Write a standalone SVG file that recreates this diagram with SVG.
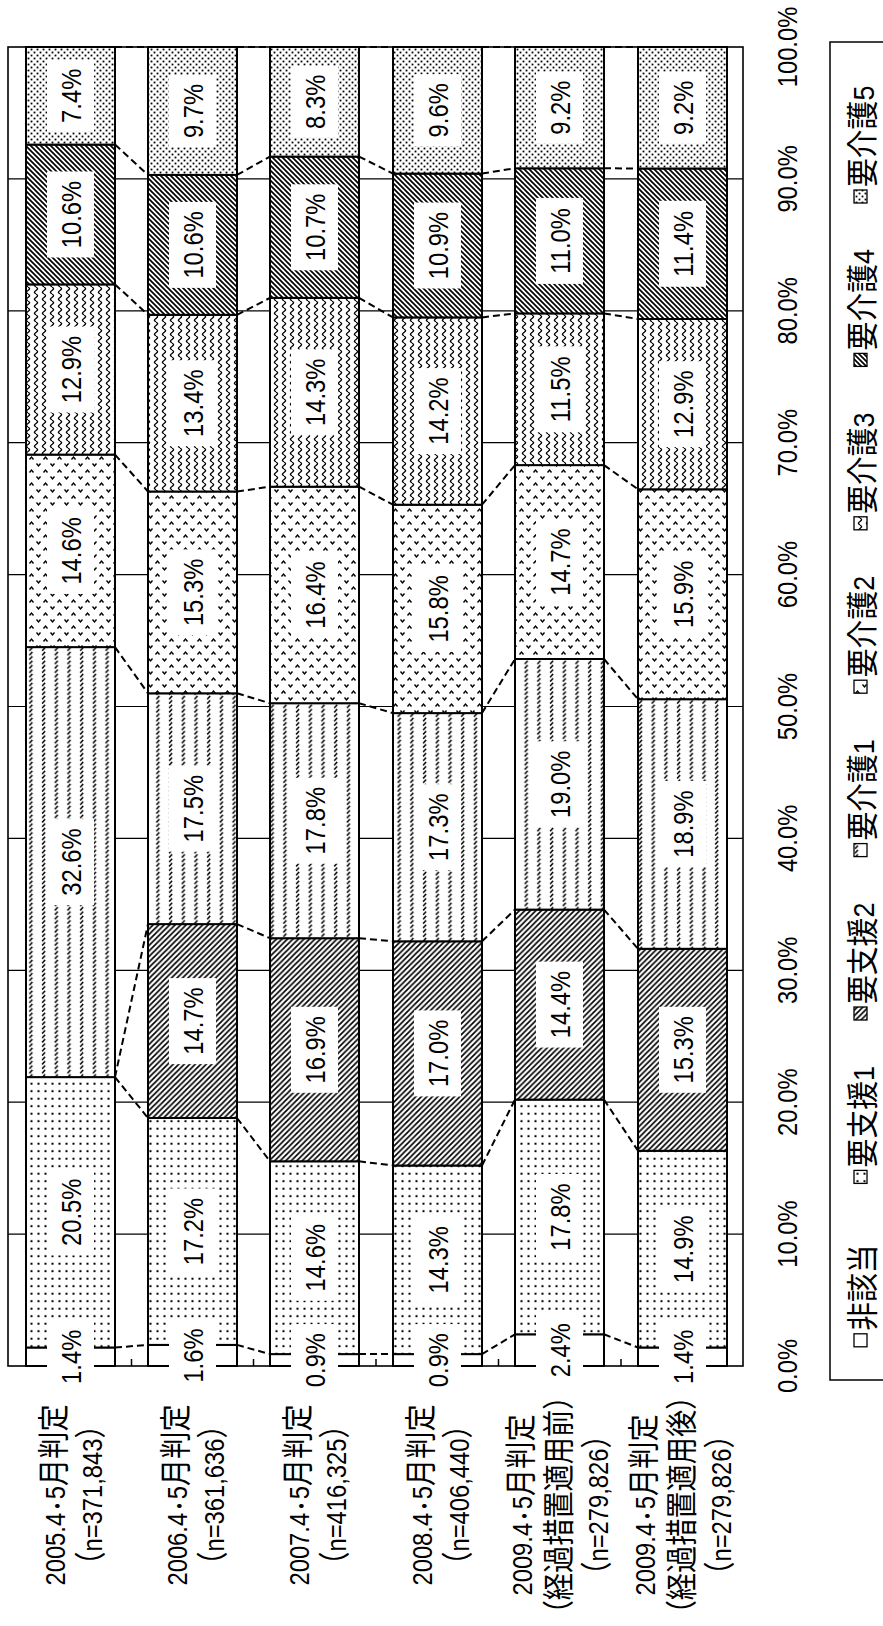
<svg xmlns="http://www.w3.org/2000/svg" width="883" height="1626" viewBox="0 0 883 1626">
<style>
text{font-family:"Liberation Sans","Noto Sans CJK JP",sans-serif;font-size:28px;fill:#000}
.cj{font-family:"Noto Sans CJK JP",sans-serif;font-size:32px}
.dt{font-family:"Noto Sans CJK JP",sans-serif;font-size:22px}
.v,.ax,.cat{text-anchor:middle}
.box{fill:#fff}
.seg{stroke:#000;stroke-width:2}
.grid{stroke:#000;stroke-width:1.2}
.conn{stroke:#000;stroke-width:2;stroke-dasharray:7 4;fill:none}
.n{fill:#fff}.s1{fill:url(#p-s1)}.s2{fill:url(#p-s2)}.k1{fill:url(#p-k1)}.k2{fill:url(#p-k2)}.k3{fill:url(#p-k3)}.k4{fill:url(#p-k4)}.k5{fill:url(#p-k5)}
.lg text{font-size:30px}
.lg .cj{font-size:32px}
.sq{stroke:#000;stroke-width:1.3}
</style>
<defs>
<pattern id="p-s1" width="7" height="7.5" patternUnits="userSpaceOnUse"><rect width="7" height="7.5" fill="#fff"/><rect x="2.5" y="2.7" width="2" height="2" fill="#000"/></pattern>
<pattern id="p-s2" width="5.5" height="5.5" patternUnits="userSpaceOnUse"><rect width="5.5" height="5.5" fill="#fff"/><path d="M-1,1 L1,-1 M0,5.5 L5.5,0 M4.5,6.5 L6.5,4.5" stroke="#000" stroke-width="1.7"/></pattern>
<pattern id="p-k1" width="12.7" height="4.4" patternUnits="userSpaceOnUse"><rect width="12.7" height="4.4" fill="#fff"/><path d="M4,4 L7,0.8" stroke="#000" stroke-width="1.5"/></pattern>
<pattern id="p-k2" width="14" height="13" patternUnits="userSpaceOnUse"><rect width="14" height="13" fill="#fff"/><path d="M1.5,4.5 L3.5,2 L5.5,4.5 M8.5,8.5 L10.5,11 L12.5,8.5" stroke="#000" stroke-width="1.4" fill="none"/></pattern>
<pattern id="p-k3" width="8" height="7" patternUnits="userSpaceOnUse"><rect width="8" height="7" fill="#fff"/><path d="M4,0 C6.2,1.75 6.2,1.75 4,3.5 C1.8,5.25 1.8,5.25 4,7" stroke="#000" stroke-width="1.3" fill="none"/></pattern>
<pattern id="p-k4" width="5" height="5" patternUnits="userSpaceOnUse"><rect width="5" height="5" fill="#fff"/><path d="M0,0 L5,5 M-1,4 L1,6 M4,-1 L6,1" stroke="#000" stroke-width="1.7"/></pattern>
<pattern id="p-k5" width="6" height="6" patternUnits="userSpaceOnUse"><rect width="6" height="6" fill="#fff"/><rect x="0.6" y="0.6" width="1.8" height="1.8" fill="#000"/><rect x="3.6" y="3.6" width="1.8" height="1.8" fill="#000"/></pattern>
</defs>
<rect width="883" height="1626" fill="#fff"/>

<g id="plot-area">
<g class="grid">
<line x1="8" y1="1234.1" x2="743" y2="1234.1"/>
<line x1="8" y1="1102.2" x2="743" y2="1102.2"/>
<line x1="8" y1="970.3" x2="743" y2="970.3"/>
<line x1="8" y1="838.4" x2="743" y2="838.4"/>
<line x1="8" y1="706.5" x2="743" y2="706.5"/>
<line x1="8" y1="574.6" x2="743" y2="574.6"/>
<line x1="8" y1="442.7" x2="743" y2="442.7"/>
<line x1="8" y1="310.8" x2="743" y2="310.8"/>
<line x1="8" y1="178.9" x2="743" y2="178.9"/>
</g>
<rect x="8" y="47" width="735" height="1319" fill="none" stroke="#000" stroke-width="1.6"/>
<g stroke="#000" stroke-width="1.5">
<line x1="131.5" y1="1366" x2="131.5" y2="1359"/>
<line x1="253.5" y1="1366" x2="253.5" y2="1359"/>
<line x1="376" y1="1366" x2="376" y2="1359"/>
<line x1="498.5" y1="1366" x2="498.5" y2="1359"/>
<line x1="621" y1="1366" x2="621" y2="1359"/>
</g>
</g>

<g id="bar-2005">
<rect class="seg n" x="26" y="1347.5" width="89" height="18.5"/>
<rect class="seg s1" x="26" y="1077.1" width="89" height="270.4"/>
<rect class="seg k1" x="26" y="647.1" width="89" height="430"/>
<rect class="seg k2" x="26" y="454.6" width="89" height="192.5"/>
<rect class="seg k3" x="26" y="284.4" width="89" height="170.2"/>
<rect class="seg k4" x="26" y="144.6" width="89" height="139.8"/>
<rect class="seg k5" x="26" y="47" width="89" height="97.6"/>
</g>
<g id="bar-2006">
<rect class="seg n" x="148" y="1344.9" width="89" height="21.1"/>
<rect class="seg s1" x="148" y="1118" width="89" height="226.9"/>
<rect class="seg s2" x="148" y="924.1" width="89" height="193.9"/>
<rect class="seg k1" x="148" y="693.3" width="89" height="230.8"/>
<rect class="seg k2" x="148" y="491.5" width="89" height="201.8"/>
<rect class="seg k3" x="148" y="314.8" width="89" height="176.7"/>
<rect class="seg k4" x="148" y="174.9" width="89" height="139.9"/>
<rect class="seg k5" x="148" y="47" width="89" height="127.9"/>
</g>
<g id="bar-2007">
<rect class="seg n" x="270" y="1354.1" width="89" height="11.9"/>
<rect class="seg s1" x="270" y="1161.3" width="89" height="192.8"/>
<rect class="seg s2" x="270" y="938.2" width="89" height="223.1"/>
<rect class="seg k1" x="270" y="703.2" width="89" height="235"/>
<rect class="seg k2" x="270" y="486.7" width="89" height="216.5"/>
<rect class="seg k3" x="270" y="297.9" width="89" height="188.8"/>
<rect class="seg k4" x="270" y="156.6" width="89" height="141.3"/>
<rect class="seg k5" x="270" y="47" width="89" height="109.6"/>
</g>
<g id="bar-2008">
<rect class="seg n" x="393" y="1354.1" width="89" height="11.9"/>
<rect class="seg s1" x="393" y="1165.5" width="89" height="188.6"/>
<rect class="seg s2" x="393" y="941.3" width="89" height="224.2"/>
<rect class="seg k1" x="393" y="713.1" width="89" height="228.2"/>
<rect class="seg k2" x="393" y="504.7" width="89" height="208.4"/>
<rect class="seg k3" x="393" y="317.4" width="89" height="187.3"/>
<rect class="seg k4" x="393" y="173.6" width="89" height="143.8"/>
<rect class="seg k5" x="393" y="47" width="89" height="126.6"/>
</g>
<g id="bar-2009-before">
<rect class="seg n" x="515" y="1334.3" width="89" height="31.7"/>
<rect class="seg s1" x="515" y="1099.6" width="89" height="234.7"/>
<rect class="seg s2" x="515" y="909.6" width="89" height="190"/>
<rect class="seg k1" x="515" y="659" width="89" height="250.6"/>
<rect class="seg k2" x="515" y="465.1" width="89" height="193.9"/>
<rect class="seg k3" x="515" y="313.4" width="89" height="151.7"/>
<rect class="seg k4" x="515" y="168.3" width="89" height="145.1"/>
<rect class="seg k5" x="515" y="47" width="89" height="121.3"/>
</g>
<g id="bar-2009-after">
<rect class="seg n" x="638" y="1347.5" width="89" height="18.5"/>
<rect class="seg s1" x="638" y="1150.8" width="89" height="196.7"/>
<rect class="seg s2" x="638" y="948.8" width="89" height="202"/>
<rect class="seg k1" x="638" y="699.2" width="89" height="249.6"/>
<rect class="seg k2" x="638" y="489.3" width="89" height="209.9"/>
<rect class="seg k3" x="638" y="319" width="89" height="170.3"/>
<rect class="seg k4" x="638" y="168.5" width="89" height="150.5"/>
<rect class="seg k5" x="638" y="47" width="89" height="121.5"/>
</g>

<g id="connectors" class="conn">
<path d="M115,1347.5L148,1344.9M115,1077.1L148,1118M115,1077.1L148,924.1M115,647.1L148,693.3M115,454.6L148,491.5M115,284.4L148,314.8M115,144.6L148,174.9M115,47L148,47"/>
<path d="M237,1344.9L270,1354.1M237,1118L270,1161.3M237,924.1L270,938.2M237,693.3L270,703.2M237,491.5L270,486.7M237,314.8L270,297.9M237,174.9L270,156.6M237,47L270,47"/>
<path d="M359,1354.1L393,1354.1M359,1161.3L393,1165.5M359,938.2L393,941.3M359,703.2L393,713.1M359,486.7L393,504.7M359,297.9L393,317.4M359,156.6L393,173.6M359,47L393,47"/>
<path d="M482,1354.1L515,1334.3M482,1165.5L515,1099.6M482,941.3L515,909.6M482,713.1L515,659M482,504.7L515,465.1M482,317.4L515,313.4M482,173.6L515,168.3M482,47L515,47"/>
<path d="M604,1334.3L638,1347.5M604,1099.6L638,1150.8M604,909.6L638,948.8M604,659L638,699.2M604,465.1L638,489.3M604,313.4L638,319M604,168.3L638,168.5M604,47L638,47"/>
</g>

<g id="labels-2005">
<rect class="box" x="47" y="1320.8" width="47" height="72"/><text class="v" transform="translate(80.5,1356.8) rotate(-90) scale(0.85,1)">1.4%</text>
<rect class="box" x="47" y="1169.3" width="47" height="86"/><text class="v" transform="translate(80.5,1212.3) rotate(-90) scale(0.85,1)">20.5%</text>
<rect class="box" x="47" y="819.1" width="47" height="86"/><text class="v" transform="translate(80.5,862.1) rotate(-90) scale(0.85,1)">32.6%</text>
<rect class="box" x="47" y="507.9" width="47" height="86"/><text class="v" transform="translate(80.5,550.9) rotate(-90) scale(0.85,1)">14.6%</text>
<rect class="box" x="47" y="326.5" width="47" height="86"/><text class="v" transform="translate(80.5,369.5) rotate(-90) scale(0.85,1)">12.9%</text>
<rect class="box" x="47" y="171.5" width="47" height="86"/><text class="v" transform="translate(80.5,214.5) rotate(-90) scale(0.85,1)">10.6%</text>
<rect class="box" x="47" y="59.8" width="47" height="72"/><text class="v" transform="translate(80.5,95.8) rotate(-90) scale(0.85,1)">7.4%</text>
</g>
<g id="labels-2006">
<rect class="box" x="169" y="1319.5" width="47" height="72"/><text class="v" transform="translate(202.5,1355.5) rotate(-90) scale(0.85,1)">1.6%</text>
<rect class="box" x="169" y="1188.5" width="47" height="86"/><text class="v" transform="translate(202.5,1231.5) rotate(-90) scale(0.85,1)">17.2%</text>
<rect class="box" x="169" y="978.1" width="47" height="86"/><text class="v" transform="translate(202.5,1021.1) rotate(-90) scale(0.85,1)">14.7%</text>
<rect class="box" x="169" y="765.7" width="47" height="86"/><text class="v" transform="translate(202.5,808.7) rotate(-90) scale(0.85,1)">17.5%</text>
<rect class="box" x="169" y="549.4" width="47" height="86"/><text class="v" transform="translate(202.5,592.4) rotate(-90) scale(0.85,1)">15.3%</text>
<rect class="box" x="169" y="360.2" width="47" height="86"/><text class="v" transform="translate(202.5,403.2) rotate(-90) scale(0.85,1)">13.4%</text>
<rect class="box" x="169" y="201.9" width="47" height="86"/><text class="v" transform="translate(202.5,244.9) rotate(-90) scale(0.85,1)">10.6%</text>
<rect class="box" x="169" y="75" width="47" height="72"/><text class="v" transform="translate(202.5,111) rotate(-90) scale(0.85,1)">9.7%</text>
</g>
<g id="labels-2007">
<rect class="box" x="291" y="1324.1" width="47" height="72"/><text class="v" transform="translate(324.5,1360.1) rotate(-90) scale(0.85,1)">0.9%</text>
<rect class="box" x="291" y="1214.7" width="47" height="86"/><text class="v" transform="translate(324.5,1257.7) rotate(-90) scale(0.85,1)">14.6%</text>
<rect class="box" x="291" y="1006.8" width="47" height="86"/><text class="v" transform="translate(324.5,1049.8) rotate(-90) scale(0.85,1)">16.9%</text>
<rect class="box" x="291" y="777.7" width="47" height="86"/><text class="v" transform="translate(324.5,820.7) rotate(-90) scale(0.85,1)">17.8%</text>
<rect class="box" x="291" y="552" width="47" height="86"/><text class="v" transform="translate(324.5,595) rotate(-90) scale(0.85,1)">16.4%</text>
<rect class="box" x="291" y="349.3" width="47" height="86"/><text class="v" transform="translate(324.5,392.3) rotate(-90) scale(0.85,1)">14.3%</text>
<rect class="box" x="291" y="184.3" width="47" height="86"/><text class="v" transform="translate(324.5,227.3) rotate(-90) scale(0.85,1)">10.7%</text>
<rect class="box" x="291" y="65.8" width="47" height="72"/><text class="v" transform="translate(324.5,101.8) rotate(-90) scale(0.85,1)">8.3%</text>
</g>
<g id="labels-2008">
<rect class="box" x="414" y="1324.1" width="47" height="72"/><text class="v" transform="translate(447.5,1360.1) rotate(-90) scale(0.85,1)">0.9%</text>
<rect class="box" x="414" y="1216.8" width="47" height="86"/><text class="v" transform="translate(447.5,1259.8) rotate(-90) scale(0.85,1)">14.3%</text>
<rect class="box" x="414" y="1010.4" width="47" height="86"/><text class="v" transform="translate(447.5,1053.4) rotate(-90) scale(0.85,1)">17.0%</text>
<rect class="box" x="414" y="784.2" width="47" height="86"/><text class="v" transform="translate(447.5,827.2) rotate(-90) scale(0.85,1)">17.3%</text>
<rect class="box" x="414" y="565.9" width="47" height="86"/><text class="v" transform="translate(447.5,608.9) rotate(-90) scale(0.85,1)">15.8%</text>
<rect class="box" x="414" y="368.1" width="47" height="86"/><text class="v" transform="translate(447.5,411.1) rotate(-90) scale(0.85,1)">14.2%</text>
<rect class="box" x="414" y="202.5" width="47" height="86"/><text class="v" transform="translate(447.5,245.5) rotate(-90) scale(0.85,1)">10.9%</text>
<rect class="box" x="414" y="74.3" width="47" height="72"/><text class="v" transform="translate(447.5,110.3) rotate(-90) scale(0.85,1)">9.6%</text>
</g>
<g id="labels-2009-before">
<rect class="box" x="536" y="1314.2" width="47" height="72"/><text class="v" transform="translate(569.5,1350.2) rotate(-90) scale(0.85,1)">2.4%</text>
<rect class="box" x="536" y="1174" width="47" height="86"/><text class="v" transform="translate(569.5,1217) rotate(-90) scale(0.85,1)">17.8%</text>
<rect class="box" x="536" y="961.6" width="47" height="86"/><text class="v" transform="translate(569.5,1004.6) rotate(-90) scale(0.85,1)">14.4%</text>
<rect class="box" x="536" y="741.3" width="47" height="86"/><text class="v" transform="translate(569.5,784.3) rotate(-90) scale(0.85,1)">19.0%</text>
<rect class="box" x="536" y="519.1" width="47" height="86"/><text class="v" transform="translate(569.5,562.1) rotate(-90) scale(0.85,1)">14.7%</text>
<rect class="box" x="536" y="346.3" width="47" height="86"/><text class="v" transform="translate(569.5,389.3) rotate(-90) scale(0.85,1)">11.5%</text>
<rect class="box" x="536" y="197.9" width="47" height="86"/><text class="v" transform="translate(569.5,240.9) rotate(-90) scale(0.85,1)">11.0%</text>
<rect class="box" x="536" y="71.7" width="47" height="72"/><text class="v" transform="translate(569.5,107.7) rotate(-90) scale(0.85,1)">9.2%</text>
</g>
<g id="labels-2009-after">
<rect class="box" x="659" y="1320.8" width="47" height="72"/><text class="v" transform="translate(692.5,1356.8) rotate(-90) scale(0.85,1)">1.4%</text>
<rect class="box" x="659" y="1206.2" width="47" height="86"/><text class="v" transform="translate(692.5,1249.2) rotate(-90) scale(0.85,1)">14.9%</text>
<rect class="box" x="659" y="1006.8" width="47" height="86"/><text class="v" transform="translate(692.5,1049.8) rotate(-90) scale(0.85,1)">15.3%</text>
<rect class="box" x="659" y="781" width="47" height="86"/><text class="v" transform="translate(692.5,824) rotate(-90) scale(0.85,1)">18.9%</text>
<rect class="box" x="659" y="551.3" width="47" height="86"/><text class="v" transform="translate(692.5,594.3) rotate(-90) scale(0.85,1)">15.9%</text>
<rect class="box" x="659" y="361.2" width="47" height="86"/><text class="v" transform="translate(692.5,404.2) rotate(-90) scale(0.85,1)">12.9%</text>
<rect class="box" x="659" y="200.8" width="47" height="86"/><text class="v" transform="translate(692.5,243.8) rotate(-90) scale(0.85,1)">11.4%</text>
<rect class="box" x="659" y="71.8" width="47" height="72"/><text class="v" transform="translate(692.5,107.8) rotate(-90) scale(0.85,1)">9.2%</text>
</g>

<g id="value-axis">
<text class="ax" transform="translate(797,1366) rotate(-90) scale(0.85,1)">0.0%</text>
<text class="ax" transform="translate(797,1234.1) rotate(-90) scale(0.85,1)">10.0%</text>
<text class="ax" transform="translate(797,1102.2) rotate(-90) scale(0.85,1)">20.0%</text>
<text class="ax" transform="translate(797,970.3) rotate(-90) scale(0.85,1)">30.0%</text>
<text class="ax" transform="translate(797,838.4) rotate(-90) scale(0.85,1)">40.0%</text>
<text class="ax" transform="translate(797,706.5) rotate(-90) scale(0.85,1)">50.0%</text>
<text class="ax" transform="translate(797,574.6) rotate(-90) scale(0.85,1)">60.0%</text>
<text class="ax" transform="translate(797,442.7) rotate(-90) scale(0.85,1)">70.0%</text>
<text class="ax" transform="translate(797,310.8) rotate(-90) scale(0.85,1)">80.0%</text>
<text class="ax" transform="translate(797,178.9) rotate(-90) scale(0.85,1)">90.0%</text>
<text class="ax" transform="translate(797,47) rotate(-90) scale(0.85,1)">100.0%</text>
</g>

<g id="category-labels">
<g id="cat-2005">
<text class="cat" transform="translate(65,1495) rotate(-90) scale(0.85,1)">2005.4<tspan class="dt" dx="-3">・</tspan><tspan dx="-3">5</tspan><tspan class="cj">月判定</tspan></text>
<text class="cat" transform="translate(102,1495) rotate(-90) scale(0.85,1)"><tspan class="cj">（</tspan>n=371,843<tspan class="cj">）</tspan></text>
</g>
<g id="cat-2006">
<text class="cat" transform="translate(187,1495) rotate(-90) scale(0.85,1)">2006.4<tspan class="dt" dx="-3">・</tspan><tspan dx="-3">5</tspan><tspan class="cj">月判定</tspan></text>
<text class="cat" transform="translate(224,1495) rotate(-90) scale(0.85,1)"><tspan class="cj">（</tspan>n=361,636<tspan class="cj">）</tspan></text>
</g>
<g id="cat-2007">
<text class="cat" transform="translate(309,1495) rotate(-90) scale(0.85,1)">2007.4<tspan class="dt" dx="-3">・</tspan><tspan dx="-3">5</tspan><tspan class="cj">月判定</tspan></text>
<text class="cat" transform="translate(346,1495) rotate(-90) scale(0.85,1)"><tspan class="cj">（</tspan>n=416,325<tspan class="cj">）</tspan></text>
</g>
<g id="cat-2008">
<text class="cat" transform="translate(432,1495) rotate(-90) scale(0.85,1)">2008.4<tspan class="dt" dx="-3">・</tspan><tspan dx="-3">5</tspan><tspan class="cj">月判定</tspan></text>
<text class="cat" transform="translate(469,1495) rotate(-90) scale(0.85,1)"><tspan class="cj">（</tspan>n=406,440<tspan class="cj">）</tspan></text>
</g>
<g id="cat-2009-before">
<text class="cat" transform="translate(532,1505) rotate(-90) scale(0.85,1)">2009.4<tspan class="dt" dx="-3">・</tspan><tspan dx="-3">5</tspan><tspan class="cj">月判定</tspan></text>
<text class="cat" transform="translate(570,1505) rotate(-90) scale(0.85,1)"><tspan class="cj" font-size="29">（経過措置適用前）</tspan></text>
<text class="cat" transform="translate(608,1505) rotate(-90) scale(0.85,1)"><tspan class="cj">（</tspan>n=279,826<tspan class="cj">）</tspan></text>
</g>
<g id="cat-2009-after">
<text class="cat" transform="translate(655,1505) rotate(-90) scale(0.85,1)">2009.4<tspan class="dt" dx="-3">・</tspan><tspan dx="-3">5</tspan><tspan class="cj">月判定</tspan></text>
<text class="cat" transform="translate(693,1505) rotate(-90) scale(0.85,1)"><tspan class="cj" font-size="29">（経過措置適用後）</tspan></text>
<text class="cat" transform="translate(731,1505) rotate(-90) scale(0.85,1)"><tspan class="cj">（</tspan>n=279,826<tspan class="cj">）</tspan></text>
</g>
</g>

<g id="legend" class="lg">
<rect x="830" y="42" width="70" height="1338" fill="none" stroke="#000" stroke-width="1.5"/>
<g id="legend-n"><rect class="sq n" x="854" y="1333.8" width="13" height="13"/><text transform="translate(874,1330.8) rotate(-90) scale(0.9,1)"><tspan class="cj">非該当</tspan></text></g>
<g id="legend-s1"><rect class="sq s1" x="854" y="1170.4" width="13" height="13"/><text transform="translate(874,1167.4) rotate(-90) scale(0.9,1)"><tspan class="cj">要支援</tspan>1</text></g>
<g id="legend-s2"><rect class="sq s2" x="854" y="1007" width="13" height="13"/><text transform="translate(874,1004) rotate(-90) scale(0.9,1)"><tspan class="cj">要支援</tspan>2</text></g>
<g id="legend-k1"><rect class="sq k1" x="854" y="843.6" width="13" height="13"/><text transform="translate(874,840.6) rotate(-90) scale(0.9,1)"><tspan class="cj">要介護</tspan>1</text></g>
<g id="legend-k2"><rect class="sq k2" x="854" y="680.2" width="13" height="13"/><text transform="translate(874,677.2) rotate(-90) scale(0.9,1)"><tspan class="cj">要介護</tspan>2</text></g>
<g id="legend-k3"><rect class="sq k3" x="854" y="516.8" width="13" height="13"/><text transform="translate(874,513.8) rotate(-90) scale(0.9,1)"><tspan class="cj">要介護</tspan>3</text></g>
<g id="legend-k4"><rect class="sq k4" x="854" y="353.4" width="13" height="13"/><text transform="translate(874,350.4) rotate(-90) scale(0.9,1)"><tspan class="cj">要介護</tspan>4</text></g>
<g id="legend-k5"><rect class="sq k5" x="854" y="190" width="13" height="13"/><text transform="translate(874,187) rotate(-90) scale(0.9,1)"><tspan class="cj">要介護</tspan>5</text></g>
</g>
</svg>
